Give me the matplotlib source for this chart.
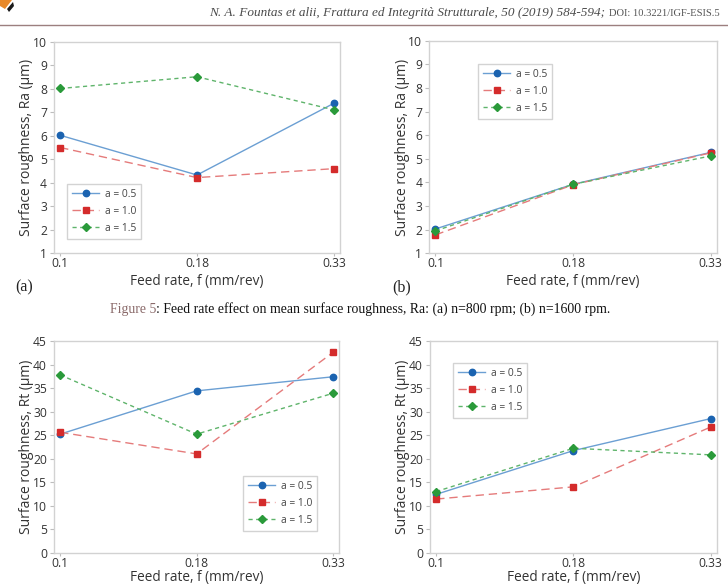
import matplotlib
matplotlib.use("Agg")
import matplotlib.pyplot as plt
from matplotlib.patches import Polygon
from matplotlib.lines import Line2D

# ---- data ----
feed_labels = ["0.1", "0.18", "0.33"]
series_labels = ["a = 0.5", "a = 1.0", "a = 1.5"]

ra_800_a05 = [6.02, 4.33, 7.38]
ra_800_a10 = [5.50, 4.22, 4.60]
ra_800_a15 = [8.01, 8.51, 7.10]

ra_1600_a05 = [2.03, 3.92, 5.27]
ra_1600_a10 = [1.78, 3.90, 5.25]
ra_1600_a15 = [1.95, 3.92, 5.12]

rt_800_a05 = [25.2, 34.4, 37.4]
rt_800_a10 = [25.6, 21.0, 42.6]
rt_800_a15 = [37.8, 25.2, 33.9]

rt_1600_a05 = [12.4, 21.7, 28.5]
rt_1600_a10 = [11.4, 14.0, 26.7]
rt_1600_a15 = [13.0, 22.2, 20.8]

ra_ticks = [1, 2, 3, 4, 5, 6, 7, 8, 9, 10]
rt_ticks = [0, 5, 10, 15, 20, 25, 30, 35, 40, 45]

header_text = "N. A. Fountas et alii, Frattura ed Integrità Strutturale, 50 (2019) 584-594;"
doi_text = "DOI: 10.3221/IGF-ESIS.5"
caption_a = "Figure 5"
caption_b = ": Feed rate effect on mean surface roughness, Ra: (a) n=800 rpm; (b) n=1600 rpm."

# ---- style ----
W, H = 728, 585
fig = plt.figure(figsize=(W / 100, H / 100), dpi=100)
fig.patch.set_facecolor("white")
SANS = ["Open Sans", "DejaVu Sans"]
SERIF = ["Liberation Serif", "DejaVu Serif"]

styles = [
    dict(color="#6b9fd3", mfc="#1b63b0", mec="#1b63b0", marker="o", ms=4.6, dashes=None),
    dict(color="#e57b7b", mfc="#d42b2b", mec="#d42b2b", marker="s", ms=4.5, dashes=(6, 3.5)),
    dict(color="#5fb46b", mfc="#2a9a3a", mec="#2a9a3a", marker="D", ms=4.0, dashes=(3, 2.5)),
]


def fx(px):
    return px / W


def fy(py):
    return 1 - py / H


def make_axes(l, t, r, b, data, yticks, ylabel, leg_xy, xlabel_py):
    ax = fig.add_axes([fx(l), fy(b), fx(r) - fx(l), fy(t) - fy(b)])
    xs = list(range(len(feed_labels)))
    for vals, st, lab in zip(data, styles, series_labels):
        kw = dict(color=st["color"], lw=1.0, marker=st["marker"], ms=st["ms"],
                  mfc=st["mfc"], mec=st["mec"], label=lab)
        if st["dashes"] is not None:
            kw["dashes"] = st["dashes"]
        ax.plot(xs, vals, **kw)
    ax.set_xlim(-0.045, 2.045)
    ax.set_ylim(yticks[0], yticks[-1])
    ax.set_xticks(xs)
    ax.set_xticklabels(feed_labels)
    ax.set_yticks(yticks)
    for s in ax.spines.values():
        s.set_color("#d2d2d2")
        s.set_linewidth(1.0)
    ax.tick_params(axis="both", colors="#bdbdbd", width=0.8,
                   labelcolor="#333333", labelsize=8.7)
    ax.tick_params(axis="y", length=3, pad=2)
    ax.tick_params(axis="x", length=2, pad=1)
    for t_ in ax.get_xticklabels() + ax.get_yticklabels():
        t_.set_fontfamily(SANS)
    ax.set_xlabel("Feed rate, f (mm/rev)", fontsize=9.8, color="#333333",
                  family=SANS, va="center")
    ax.xaxis.set_label_coords(0.5, -(xlabel_py - b) / (b - t))
    ax.set_ylabel(ylabel, fontsize=10, color="#333333", family=SANS, va="center")
    ax.yaxis.set_label_coords(-27 / (r - l), 0.5)
    leg = ax.legend(loc="upper left", bbox_to_anchor=(fx(leg_xy[0]), fy(leg_xy[1])),
                    bbox_transform=fig.transFigure, borderaxespad=0,
                    frameon=True, fancybox=False, handlelength=2.7,
                    handletextpad=0.5, labelspacing=0.6, borderpad=0.45,
                    prop=dict(family=SANS, size=7.4))
    leg.get_frame().set_edgecolor("#c8c8c8")
    leg.get_frame().set_linewidth(1.0)
    for txt in leg.get_texts():
        txt.set_color("#444444")
    return ax


make_axes(54, 41.7, 340, 253.3, [ra_800_a05, ra_800_a10, ra_800_a15], ra_ticks,
          "Surface roughness, Ra (µm)", (67, 184), 282)
make_axes(429.3, 40.7, 716.7, 253.3, [ra_1600_a05, ra_1600_a10, ra_1600_a15], ra_ticks,
          "Surface roughness, Ra (µm)", (478, 64), 282)
make_axes(54, 341, 339.3, 552.7, [rt_800_a05, rt_800_a10, rt_800_a15], rt_ticks,
          "Surface roughness, Rt (µm)", (243, 476), 578)
make_axes(430, 341, 716.7, 552.7, [rt_1600_a05, rt_1600_a10, rt_1600_a15], rt_ticks,
          "Surface roughness, Rt (µm)", (453, 363), 578)

# ---- page decorations ----
fig.text(fx(605), fy(13), header_text, ha="right", va="center", fontsize=9.5,
         family=SERIF, style="italic", color="#4a4a4a")
fig.text(fx(609), fy(13.5), doi_text, ha="left", va="center", fontsize=7.6,
         family=SERIF, color="#555555")
fig.add_artist(Line2D([0, 1], [fy(24.5), fy(24.5)], transform=fig.transFigure,
                      color="#9c7f7f", lw=1.0))
fig.add_artist(Polygon([[fx(0), fy(0)], [fx(12), fy(0)], [fx(5), fy(9)], [fx(0), fy(6)]],
                       closed=True, transform=fig.transFigure, color="#e8892a", lw=0))
fig.add_artist(Polygon([[fx(7), fy(9)], [fx(13), fy(2)], [fx(14), fy(6)], [fx(9), fy(12)]],
                       closed=True, transform=fig.transFigure, color="#1a1a1a", lw=0))

fig.text(fx(15), fy(287), "(a)", ha="left", va="center", fontsize=11.5,
         family=SERIF, color="#222222")
fig.text(fx(392), fy(287), "(b)", ha="left", va="center", fontsize=11.5,
         family=SERIF, color="#222222")

ca = fig.text(fx(110), fy(309), caption_a, ha="left", va="center", fontsize=9.9,
              family=SERIF, color="#8a6a6a")
fig.canvas.draw()
bb = ca.get_window_extent()
fig.text(bb.x1 / W, fy(309), caption_b, ha="left", va="center", fontsize=9.9,
         family=SERIF, color="#111111")

fig.savefig("out.png", dpi=100, facecolor="white")
